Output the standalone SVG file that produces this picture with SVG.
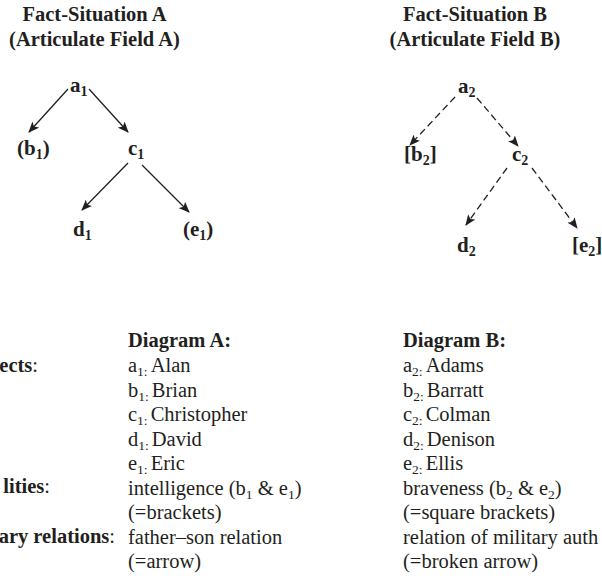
<svg xmlns="http://www.w3.org/2000/svg" width="602" height="576" viewBox="0 0 602 576">
<defs>
<style>
text { font-family: "Liberation Serif", "Times New Roman", serif; fill: #231f20; }
.title { font-size: 20.5px; font-weight: bold; text-anchor: middle; }
.node { font-size: 21px; font-weight: bold; }
.nsub { font-size: 14px; }
.body { font-size: 20.5px; }
.bold { font-weight: bold; }
.sub { font-size: 13.5px; }
.lbl { font-size: 20.5px; font-weight: bold; text-anchor: end; }
.solid { stroke: #231f20; stroke-width: 1.3; fill: none; }
.dash { stroke: #231f20; stroke-width: 1.3; fill: none; stroke-dasharray: 7 4; }
</style>
<marker id="ah" markerUnits="userSpaceOnUse" markerWidth="11" markerHeight="9" refX="10" refY="4.5" orient="auto">
<path d="M0,0 L11,4.5 L0,9 L2.5,4.5 z" fill="#231f20"/>
</marker>
</defs>
<rect width="602" height="576" fill="#ffffff"/>

<g id="titleA">
<text class="title" x="94.5" y="21">Fact-Situation A</text>
<text class="title" x="94.5" y="46">(Articulate Field A)</text>
</g>
<g id="titleB">
<text class="title" x="475" y="21">Fact-Situation B</text>
<text class="title" x="475" y="46">(Articulate Field B)</text>
</g>

<g id="connectors">
<line class="solid" x1="68" y1="89" x2="29" y2="132" marker-end="url(#ah)"/>
<line class="solid" x1="89" y1="89" x2="128" y2="132" marker-end="url(#ah)"/>
<line class="solid" x1="128" y1="163" x2="82" y2="210" marker-end="url(#ah)"/>
<line class="solid" x1="142" y1="165" x2="189" y2="212" marker-end="url(#ah)"/>
<line class="dash" x1="455" y1="97" x2="410" y2="145" marker-end="url(#ah)"/>
<line class="dash" x1="477" y1="98" x2="518" y2="146" marker-end="url(#ah)"/>
<line class="dash" x1="507" y1="168" x2="466" y2="225" marker-end="url(#ah)"/>
<line class="dash" x1="532" y1="168" x2="577" y2="228" marker-end="url(#ah)"/>
</g>

<g id="a1"><text class="node" x="70" y="92">a<tspan class="nsub" dy="4">1</tspan></text></g>
<g id="b1"><text class="node" x="17" y="155">(b<tspan class="nsub" dy="4">1</tspan><tspan dy="-4">)</tspan></text></g>
<g id="c1"><text class="node" x="128" y="155">c<tspan class="nsub" dy="4">1</tspan></text></g>
<g id="d1"><text class="node" x="73" y="236">d<tspan class="nsub" dy="4">1</tspan></text></g>
<g id="e1"><text class="node" x="183" y="236">(e<tspan class="nsub" dy="4">1</tspan><tspan dy="-4">)</tspan></text></g>

<g id="a2"><text class="node" x="458" y="93">a<tspan class="nsub" dy="4">2</tspan></text></g>
<g id="b2"><text class="node" x="404" y="161">[b<tspan class="nsub" dy="4">2</tspan><tspan dy="-4">]</tspan></text></g>
<g id="c2"><text class="node" x="512" y="161">c<tspan class="nsub" dy="4">2</tspan></text></g>
<g id="d2"><text class="node" x="457" y="252">d<tspan class="nsub" dy="4">2</tspan></text></g>
<g id="e2"><text class="node" x="572" y="252">[e<tspan class="nsub" dy="4">2</tspan><tspan dy="-4">]</tspan></text></g>

<g id="labels">
<text class="lbl" x="38" y="372">ects<tspan font-weight="normal">:</tspan></text>
<text class="lbl" x="50" y="493">lities<tspan font-weight="normal">:</tspan></text>
<text class="lbl" x="115" y="543">ary relations<tspan font-weight="normal">:</tspan></text>
</g>

<g id="legendA">
<text class="body bold" x="128" y="347">Diagram A:</text>
<text class="body" x="128" y="372">a<tspan class="sub" dy="4">1:</tspan><tspan dy="-4" dx="3">Alan</tspan></text>
<text class="body" x="128" y="396.5">b<tspan class="sub" dy="4">1:</tspan><tspan dy="-4" dx="3">Brian</tspan></text>
<text class="body" x="128" y="421">c<tspan class="sub" dy="4">1:</tspan><tspan dy="-4" dx="3">Christopher</tspan></text>
<text class="body" x="128" y="445.5">d<tspan class="sub" dy="4">1:</tspan><tspan dy="-4" dx="3">David</tspan></text>
<text class="body" x="128" y="470">e<tspan class="sub" dy="4">1:</tspan><tspan dy="-4" dx="3">Eric</tspan></text>
<text class="body" x="128" y="494.5">intelligence (b<tspan class="sub" dy="4">1</tspan><tspan dy="-4"> &amp; e</tspan><tspan class="sub" dy="4">1</tspan><tspan dy="-4">)</tspan></text>
<text class="body" x="128" y="519">(=brackets)</text>
<text class="body" x="128" y="543.5">father–son relation</text>
<text class="body" x="128" y="568">(=arrow)</text>
</g>

<g id="legendB">
<text class="body bold" x="403" y="347">Diagram B:</text>
<text class="body" x="403" y="372">a<tspan class="sub" dy="4">2:</tspan><tspan dy="-4" dx="3">Adams</tspan></text>
<text class="body" x="403" y="396.5">b<tspan class="sub" dy="4">2:</tspan><tspan dy="-4" dx="3">Barratt</tspan></text>
<text class="body" x="403" y="421">c<tspan class="sub" dy="4">2:</tspan><tspan dy="-4" dx="3">Colman</tspan></text>
<text class="body" x="403" y="445.5">d<tspan class="sub" dy="4">2:</tspan><tspan dy="-4" dx="3">Denison</tspan></text>
<text class="body" x="403" y="470">e<tspan class="sub" dy="4">2:</tspan><tspan dy="-4" dx="3">Ellis</tspan></text>
<text class="body" x="403" y="494.5">braveness (b<tspan class="sub" dy="4">2</tspan><tspan dy="-4"> &amp; e</tspan><tspan class="sub" dy="4">2</tspan><tspan dy="-4">)</tspan></text>
<text class="body" x="403" y="519">(=square brackets)</text>
<text class="body" x="403" y="543.5">relation of military auth</text>
<text class="body" x="403" y="568">(=broken arrow)</text>
</g>
</svg>
